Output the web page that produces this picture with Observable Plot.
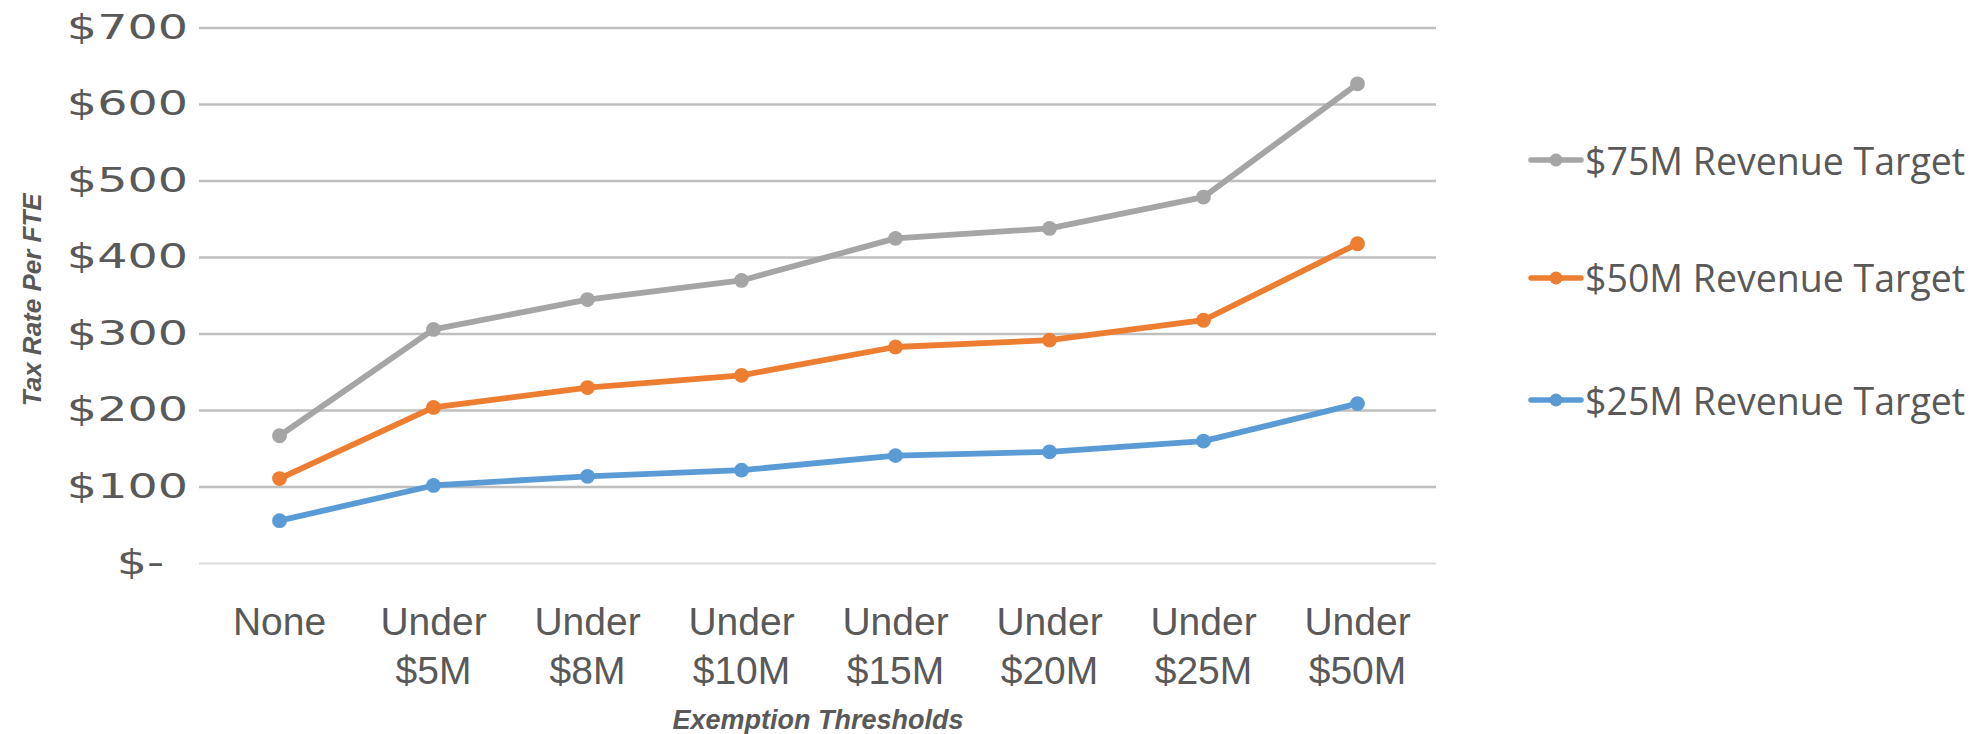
<!DOCTYPE html>
<html>
<head>
<meta charset="utf-8">
<script src="https://cdn.jsdelivr.net/npm/d3@7"></script>
<script src="https://cdn.jsdelivr.net/npm/@observablehq/plot@0.6"></script>
<style>
  html, body { margin: 0; padding: 0; background: #fff; }
  #wrap { position: relative; width: 1987px; height: 734px; overflow: hidden; }
  .leg { position: absolute; left: 1527px; height: 50px; display: flex; align-items: center;
         font-family: "Open Sans", sans-serif; font-size: 37.5px; color: #595959; white-space: nowrap; }
  .leg svg { display: block; }
</style>
</head>
<body>
<div id="wrap"></div>
<script>
const categories = ["None", "Under\n$5M", "Under\n$8M", "Under\n$10M", "Under\n$15M", "Under\n$20M", "Under\n$25M", "Under\n$50M"];
const seriesNames = ["$75M Revenue Target", "$50M Revenue Target", "$25M Revenue Target"];
const seriesColors = ["#A5A5A5", "#ED7D31", "#5B9BD5"];
const target75 = [167, 306, 345, 370, 425, 438, 479, 627];
const target50 = [111, 204, 230, 246, 283, 292, 318, 418];
const target25 = [56, 102, 114, 122, 141, 146, 160, 209];
const yTicks = [0, 100, 200, 300, 400, 500, 600, 700];
const yTitle = "Tax Rate Per FTE";
const xTitle = "Exemption Thresholds";

const seriesValues = [target75, target50, target25];
const data = [];
// draw blue first, gray last
for (let s = seriesNames.length - 1; s >= 0; s--) {
  categories.forEach((c, i) => data.push({series: seriesNames[s], category: c, value: seriesValues[s][i]}));
}

const chart = Plot.plot({
  width: 1987,
  height: 734,
  marginLeft: 199,
  marginRight: 551,
  marginTop: 27.5,
  marginBottom: 171,
  style: {background: "#fff"},
  x: {type: "point", domain: categories, padding: 0.5, axis: null},
  y: {domain: [0, 700]},
  color: {domain: seriesNames, range: seriesColors},
  marks: [
    Plot.ruleY(yTicks.filter(v => v > 0), {stroke: "#BFBFBF", strokeWidth: 2.6}),
    Plot.ruleY([0], {stroke: "#D9D9D9", strokeWidth: 2}),
    Plot.axisY(yTicks, {
      tickSize: 0, tickPadding: 11.5, fontSize: 34, fill: "#595959",
      fontFamily: "DejaVu Sans", label: null,
      tickFormat: v => v === 0 ? "$-\u2002" : "$" + v
    }),
    Plot.text(categories, {
      x: d => d, text: d => d, frameAnchor: "bottom", lineAnchor: "top",
      dy: 36, lineHeight: 1.27, fontSize: 39, fill: "#595959",
      fontFamily: "Liberation Sans", textAnchor: "middle"
    }),
    Plot.line(data, {
      x: "category", y: "value", z: "series", stroke: "series",
      strokeWidth: 5.8, strokeLinejoin: "round", strokeLinecap: "round"
    }),
    Plot.dot(data, {x: "category", y: "value", fill: "series", r: 7.4, stroke: "none"}),
    Plot.text([yTitle], {
      text: d => d, frameAnchor: "left", textAnchor: "middle", rotate: -90, dx: -167, dy: 4,
      fontSize: 26, fontWeight: "bold", fontStyle: "italic", fill: "#595959",
      fontFamily: "Liberation Sans"
    }),
    Plot.text([xTitle], {
      text: d => d, frameAnchor: "bottom", textAnchor: "middle", dy: 165,
      fontSize: 27, fontWeight: "bold", fontStyle: "italic", fill: "#595959",
      fontFamily: "Liberation Sans"
    })
  ]
});

// widen y tick labels horizontally (reference glyphs are stretched)
chart.querySelectorAll('[aria-label="y-axis tick label"] text').forEach(t => {
  let tr = t.getAttribute("transform");
  if (!tr) {
    const x = t.getAttribute("x") || 0, y = t.getAttribute("y") || 0;
    t.removeAttribute("x"); t.removeAttribute("y");
    tr = `translate(${x},${y})`;
  }
  t.setAttribute("transform", tr + " scale(1.4,1)");
});

const wrap = document.getElementById("wrap");
wrap.appendChild(chart);

// legend
const legendY = [160, 277.5, 400];
seriesNames.forEach((name, i) => {
  const div = document.createElement("div");
  div.className = "leg";
  div.style.top = (legendY[i] - 25) + "px";
  div.innerHTML = `<svg width="58" height="20"><line x1="4" y1="10" x2="54" y2="10" stroke="${seriesColors[i]}" stroke-width="5.5" stroke-linecap="round"/><circle cx="29" cy="10" r="6.5" fill="${seriesColors[i]}"/></svg><span>${name}</span>`;
  wrap.appendChild(div);
});
</script>
</body>
</html>
